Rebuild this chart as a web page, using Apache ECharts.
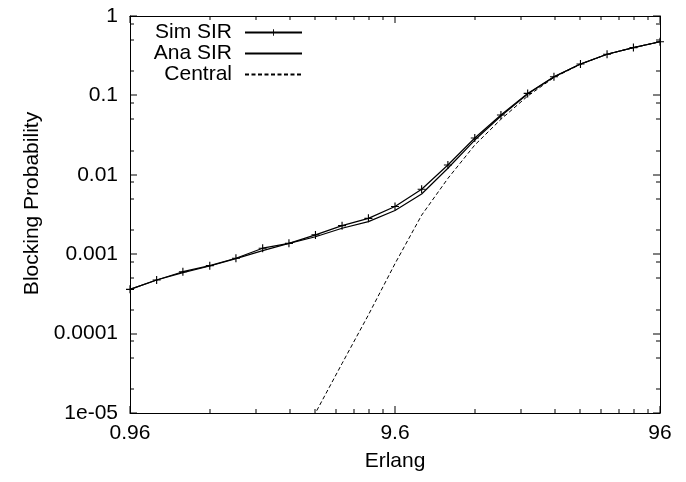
<!DOCTYPE html>
<html>
<head>
<meta charset="utf-8">
<script src="https://cdn.jsdelivr.net/npm/echarts@6/dist/echarts.min.js"></script>
<style>
html,body{margin:0;padding:0;background:#fff;}
#chart{width:686px;height:482px;}
</style>
</head>
<body>
<div id="chart"></div>
<script>
// Offered load (Erlang)
const erlang = [0.96, 1.21, 1.52, 1.92, 2.41, 3.04, 3.82, 4.81, 6.06, 7.62, 9.6, 12.1, 15.2, 19.2, 24.1, 30.4, 38.2, 48.1, 60.6, 76.2, 96];
const simSIR = [3.61e-4, 4.73e-4, 6.02e-4, 7.17e-4, 8.88e-4, 1.19e-3, 1.37e-3, 1.75e-3, 2.29e-3, 2.83e-3, 3.99e-3, 6.57e-3, 0.0133, 0.0291, 0.0567, 0.106, 0.172, 0.249, 0.33, 0.40, 0.474];
const anaSIR = [3.61e-4, 4.73e-4, 5.85e-4, 7.1e-4, 8.8e-4, 1.11e-3, 1.37e-3, 1.66e-3, 2.12e-3, 2.57e-3, 3.55e-3, 5.73e-3, 0.0121, 0.0274, 0.055, 0.104, 0.171, 0.248, 0.33, 0.40, 0.474];
const central = [null, null, null, null, null, null, 2.4e-6, 1.0e-5, 4.2e-5, 1.72e-4, 7.6e-4, 3.1e-3, 9.0e-3, 0.0237, 0.050, 0.098, 0.168, 0.247, 0.33, 0.40, 0.474];

const xMajorTicks = [0.96, 9.6, 96];
const xTickLabels = ['0.96', '9.6', '96'];
const xMinorTicks = [1.92, 2.88, 3.84, 4.8, 5.76, 6.72, 7.68, 8.64, 19.2, 28.8, 38.4, 48, 57.6, 67.2, 76.8, 86.4];
const yMajorTicks = [1e-5, 1e-4, 1e-3, 0.01, 0.1, 1];
const yTickLabels = ['1e-05', '0.0001', '0.001', '0.01', '0.1', '1'];
const yMinorTicks = [2e-5, 5e-5, 8e-5, 2e-4, 5e-4, 8e-4, 2e-3, 5e-3, 8e-3, 0.02, 0.05, 0.08, 0.2, 0.5, 0.8];

const X_MIN = 0.96, X_MAX = 96, Y_MIN = 1e-5, Y_MAX = 1;
const FONT = "'Liberation Sans', Arial, Helvetica, sans-serif";
const BLACK = '#000';
const PLUS = 'path://M4.3,0H5.7V4.3H10V5.7H5.7V10H4.3V5.7H0V4.3H4.3Z';
const MAJOR_LEN = 7, MINOR_LEN = 4;

function nearestLabel(vals, labels, v) {
  let best = 0, bd = Infinity;
  for (let i = 0; i < vals.length; i++) {
    const d = Math.abs(Math.log10(vals[i]) - Math.log10(v));
    if (d < bd) { bd = d; best = i; }
  }
  return labels[best];
}

function frameX(position, main) {
  return {
    type: 'log', logBase: 10, min: X_MIN, max: X_MAX, position: position,
    axisLine: { show: true, onZero: false, lineStyle: { color: BLACK, width: 1 } },
    axisTick: { show: false }, axisLabel: { show: false },
    splitLine: { show: false }, minorTick: { show: false }, axisPointer: { show: false },
    name: main ? 'Erlang' : '', nameLocation: 'middle', nameGap: 38,
    nameTextStyle: { color: BLACK, fontFamily: FONT, fontSize: 21 }
  };
}
function frameY(position, main) {
  return {
    type: 'log', logBase: 10, min: Y_MIN, max: Y_MAX, position: position,
    axisLine: { show: true, onZero: false, lineStyle: { color: BLACK, width: 1 } },
    axisTick: { show: false },
    axisLabel: { show: main, margin: 12, color: BLACK, fontFamily: FONT, fontSize: 21,
      formatter: v => nearestLabel(yMajorTicks, yTickLabels, v) },
    splitLine: { show: false }, minorTick: { show: false }, axisPointer: { show: false },
    name: main ? 'Blocking Probability' : '', nameLocation: 'middle', nameGap: 87, nameRotate: 90,
    nameTextStyle: { color: BLACK, fontFamily: FONT, fontSize: 21, padding: [0, 0, 0, 22] }
  };
}

const chart = echarts.init(document.getElementById('chart'));
chart.setOption({
  backgroundColor: '#fff',
  animation: false,
  grid: { left: 130, right: 26, top: 16, bottom: 69 },
  legend: {
    data: [
      { name: 'Sim SIR' },
      { name: 'Ana SIR', itemStyle: { opacity: 0 } },
      { name: 'Central', itemStyle: { opacity: 0 } }
    ],
    orient: 'vertical', align: 'right',
    right: 383, top: 22, padding: 0,
    itemWidth: 57, itemHeight: 8, itemGap: 0,
    selectedMode: false,
    textStyle: { color: BLACK, fontFamily: FONT, fontSize: 21, padding: [0, 8, 0, 0] }
  },
  xAxis: [frameX('bottom', true), frameX('top', false)],
  yAxis: [frameY('left', true), frameY('right', false)],
  series: [
    {
      name: 'Sim SIR', type: 'line',
      data: erlang.map((x, i) => [x, simSIR[i]]),
      symbol: PLUS, symbolSize: 8, showSymbol: true,
      itemStyle: { color: BLACK },
      lineStyle: { color: BLACK, width: 1.2 }
    },
    {
      name: 'Ana SIR', type: 'line',
      data: erlang.map((x, i) => [x, anaSIR[i]]),
      symbol: 'none', showSymbol: false,
      itemStyle: { color: BLACK },
      lineStyle: { color: BLACK, width: 1.2 }
    },
    {
      name: 'Central', type: 'line',
      data: erlang.map((x, i) => [x, central[i]]).filter(p => p[1] !== null),
      symbol: 'none', showSymbol: false,
      itemStyle: { color: BLACK },
      lineStyle: { color: BLACK, width: 1, type: [4, 2.5] },
      clip: true
    }
  ]
});

// Inward tick marks on all four sides and x tick labels, positioned through the axes' own scales
function px(x, y) { return chart.convertToPixel({ xAxisIndex: 0, yAxisIndex: 0 }, [x, y]); }
const els = [];
function vTick(p, len, up) {
  els.push({ type: 'rect', z: 100,
    shape: { x: Math.round(p[0]) - 0.5, y: up ? p[1] - len : p[1], width: 1, height: len },
    style: { fill: BLACK } });
}
function hTick(p, len, right) {
  els.push({ type: 'rect', z: 100,
    shape: { x: right ? p[0] : p[0] - len, y: Math.round(p[1]) - 0.5, width: len, height: 1 },
    style: { fill: BLACK } });
}
xMajorTicks.forEach(v => { vTick(px(v, Y_MIN), MAJOR_LEN, true); vTick(px(v, Y_MAX), MAJOR_LEN, false); });
xMinorTicks.forEach(v => { vTick(px(v, Y_MIN), MINOR_LEN, true); vTick(px(v, Y_MAX), MINOR_LEN, false); });
yMajorTicks.forEach(v => { hTick(px(X_MIN, v), MAJOR_LEN, true); hTick(px(X_MAX, v), MAJOR_LEN, false); });
yMinorTicks.forEach(v => { hTick(px(X_MIN, v), MINOR_LEN, true); hTick(px(X_MAX, v), MINOR_LEN, false); });
xMajorTicks.forEach((v, i) => {
  const p = px(v, Y_MIN);
  els.push({ type: 'text', z: 100, x: p[0], y: p[1] + 10,
    style: { text: xTickLabels[i], fill: BLACK, font: "21px " + FONT, align: 'center', verticalAlign: 'top' } });
});
chart.setOption({ graphic: [{ z: 100, elements: els }] });
</script>
</body>
</html>
